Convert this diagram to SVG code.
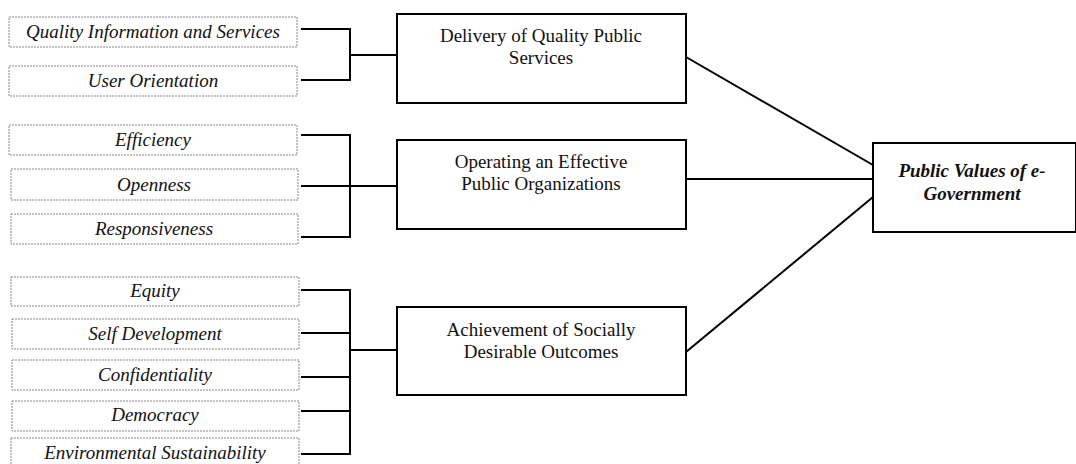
<svg xmlns="http://www.w3.org/2000/svg" width="1076" height="464" viewBox="0 0 1076 464" font-family="Liberation Serif, Times New Roman, serif">
  <style>
    text { fill: #111; text-anchor: middle; }
    .attr rect { fill: #fff; stroke: #888; stroke-width: 1; stroke-dasharray: 2 1; }
    .attr text { font-style: italic; font-size: 19px; }
    .dim rect { fill: #fff; stroke: #000; stroke-width: 2; }
    .dim text { font-size: 19px; }
    .goal text { font-weight: bold; font-style: italic; }
    .conn { fill: none; stroke: #000; stroke-width: 2; }
  </style>
  <rect width="1076" height="464" fill="#fff"/>

  <!-- attribute boxes -->
  <g id="quality-info" class="attr"><rect x="9" y="17" width="288" height="30"/><text x="153" y="38">Quality Information and Services</text></g>
  <g id="user-orientation" class="attr"><rect x="9" y="66" width="288" height="30"/><text x="153" y="87">User Orientation</text></g>

  <g id="efficiency" class="attr"><rect x="9" y="125" width="288" height="30"/><text x="153" y="146">Efficiency</text></g>
  <g id="openness" class="attr"><rect x="11" y="169" width="287" height="31"/><text x="154" y="191">Openness</text></g>
  <g id="responsiveness" class="attr"><rect x="11" y="214" width="287" height="30"/><text x="154" y="235">Responsiveness</text></g>

  <g id="equity" class="attr"><rect x="11" y="277" width="288" height="29"/><text x="155" y="297">Equity</text></g>
  <g id="self-development" class="attr"><rect x="12" y="319" width="287" height="30"/><text x="155" y="340">Self Development</text></g>
  <g id="confidentiality" class="attr"><rect x="12" y="360" width="287" height="30"/><text x="155" y="381">Confidentiality</text></g>
  <g id="democracy" class="attr"><rect x="12" y="401" width="287" height="30"/><text x="155" y="421">Democracy</text></g>
  <g id="environmental" class="attr"><rect x="11" y="438" width="288" height="34"/><text x="155" y="459">Environmental Sustainability</text></g>

  <!-- dimension boxes -->
  <g id="delivery" class="dim"><rect x="397" y="14" width="289" height="89"/><text x="541" y="42">Delivery of Quality Public</text><text x="541" y="64">Services</text></g>
  <g id="operating" class="dim"><rect x="397" y="140" width="289" height="89"/><text x="541" y="168">Operating an Effective</text><text x="541" y="190">Public Organizations</text></g>
  <g id="achievement" class="dim"><rect x="397" y="307" width="289" height="88"/><text x="541" y="336">Achievement of Socially</text><text x="541" y="358">Desirable Outcomes</text></g>

  <g id="public-values" class="dim goal"><rect x="873" y="143" width="203" height="89"/><text x="972" y="177">Public Values of e-</text><text x="972" y="200">Government</text></g>

  <!-- connectors -->
  <g id="connectors" class="conn">
    <path d="M301 29 H350 V80 H301 M350 55 H397"/>
    <path d="M301 135 H350 V237 H301 M301 186 H397"/>
    <path d="M301 290 H350 V454 H301 M301 333 H350 M301 377 H350 M301 411 H350 M350 350 H397"/>
    <path d="M686 57 L873 165"/>
    <path d="M686 179 H873"/>
    <path d="M686 352 L873 197"/>
  </g>
</svg>
